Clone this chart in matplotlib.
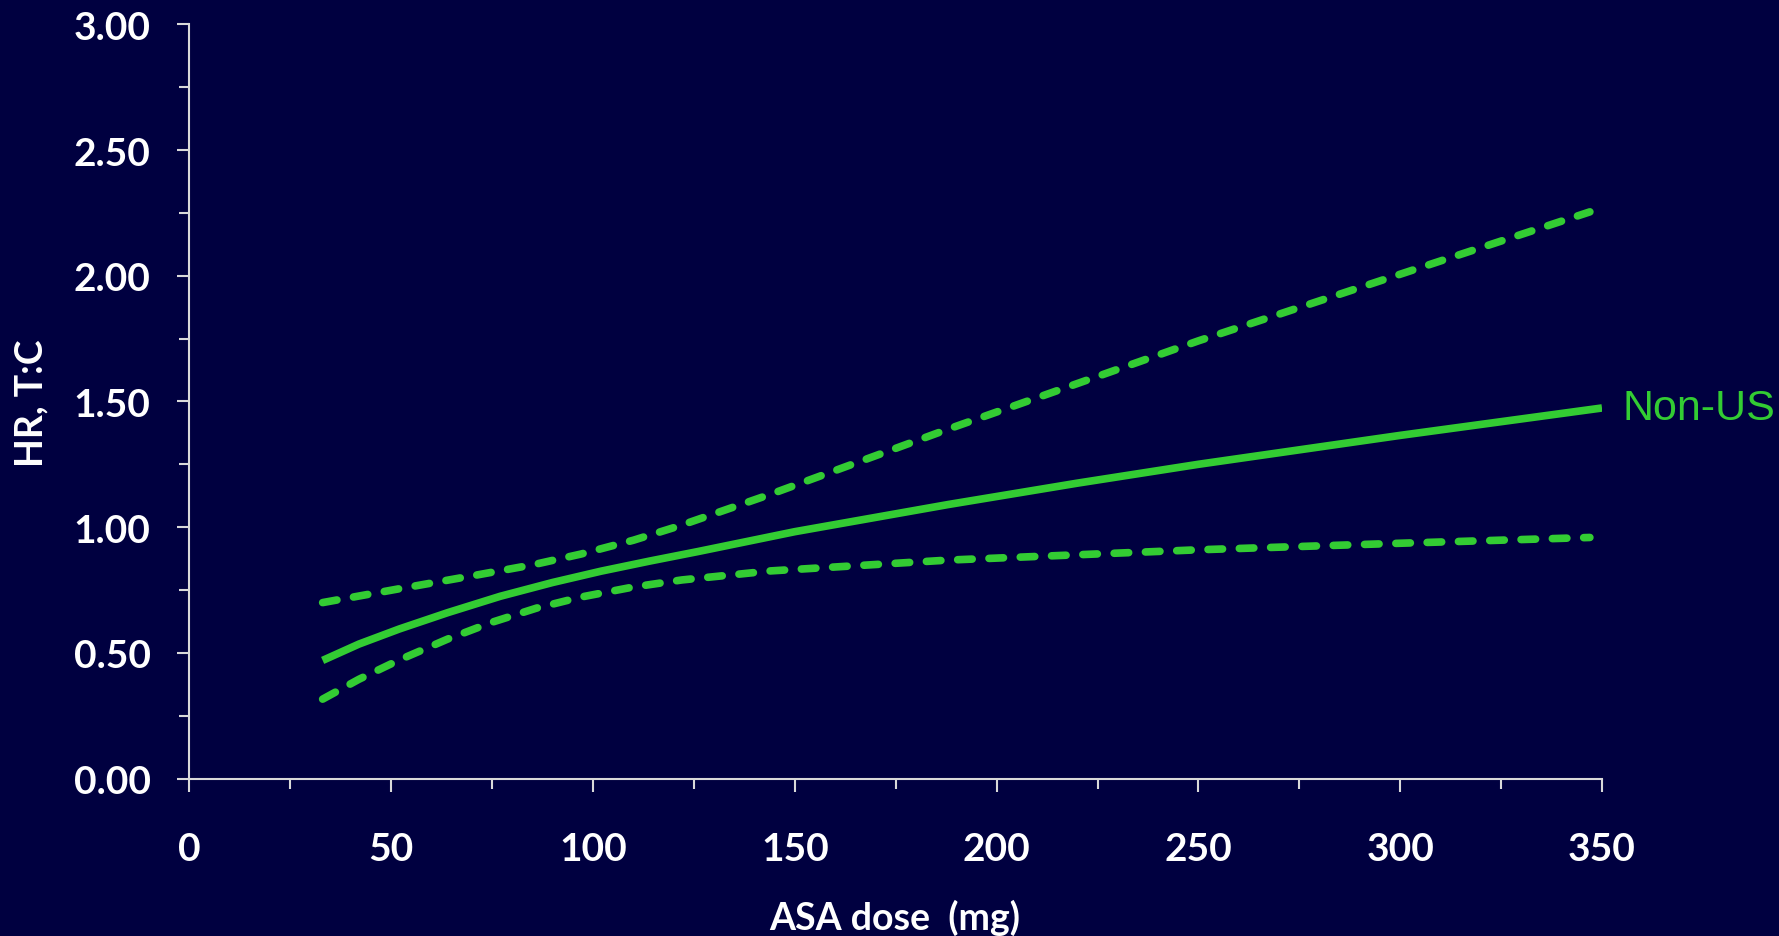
import numpy as np
import matplotlib
matplotlib.use("Agg")
import matplotlib.pyplot as plt
from matplotlib.ticker import MultipleLocator

# values
dose = [33, 42, 52, 64, 77, 90, 102, 114, 126, 150, 188, 220, 250, 300, 350]
hr = [0.47, 0.535, 0.595, 0.66, 0.725, 0.78, 0.825, 0.865, 0.903, 0.982,
      1.09, 1.175, 1.25, 1.365, 1.474]

upper_dose = [33, 52, 72, 85, 97, 110, 121, 144, 188, 250, 300, 347]
ci_upper = [0.70, 0.755, 0.812, 0.85, 0.893, 0.948, 1.003, 1.131, 1.39,
            1.741, 2.006, 2.254]

lower_dose = [33, 42, 52, 64, 75, 86, 97, 110, 122, 144, 188, 250, 300, 347]
ci_lower = [0.316, 0.395, 0.472, 0.555, 0.622, 0.678, 0.722, 0.762, 0.79,
            0.826, 0.869, 0.91, 0.936, 0.959]

series_label = "Non-US"
x_ticks = [0, 50, 100, 150, 200, 250, 300, 350]
y_ticks = [0.0, 0.5, 1.0, 1.5, 2.0, 2.5, 3.0]

bg = "#000040"
green = "#33CC33"
axis_col = "#D9D9D9"

fig = plt.figure(figsize=(17.79, 9.37), dpi=100, facecolor=bg)
ax = fig.add_axes([0.1065, 0.168, 0.794, 0.805], facecolor=bg)

ax.plot(dose, hr, color=green, lw=5.5, solid_capstyle="butt",
        solid_joinstyle="round")
for xs, ci in ((upper_dose, ci_upper), (lower_dose, ci_lower)):
    ax.plot(xs, ci, color=green, lw=5.5, linestyle=(0, (1.9, 2.2)),
            dash_capstyle="round", dash_joinstyle="round")

ax.text(355, hr[-1], series_label, color=green, fontsize=31,
        family="Liberation Sans", va="center", ha="left", clip_on=False)

ax.set_xlim(0, 350)
ax.set_ylim(0, 3)
ax.set_xticks(x_ticks)
ax.set_yticks(y_ticks)
ax.set_yticklabels([f"{v:.2f}" for v in y_ticks])
ax.xaxis.set_minor_locator(MultipleLocator(25))
ax.yaxis.set_minor_locator(MultipleLocator(0.25))

for s in ("top", "right"):
    ax.spines[s].set_visible(False)
for s in ("left", "bottom"):
    ax.spines[s].set_color(axis_col)
    ax.spines[s].set_linewidth(1.5)

ax.tick_params(which="both", colors=axis_col, width=1.5, direction="out")
ax.tick_params(which="major", length=9)
ax.tick_params(which="minor", length=7)
ax.tick_params(axis="x", which="major", pad=29)
ax.tick_params(axis="y", which="major", pad=19)

for lab in ax.get_xticklabels() + ax.get_yticklabels():
    lab.set_color("white")
    lab.set_fontsize(28)
    lab.set_fontweight("bold")
    lab.set_family("Lato")

fig.text(0.503, 0.02, "ASA dose  (mg)", color="white", fontsize=27,
         fontweight="bold", family="Lato", ha="center", va="center")
fig.text(0.0175, 0.57, "HR, T:C", color="white", fontsize=27,
         fontweight="bold", family="Lato", ha="center", va="center",
         rotation=90)

fig.savefig("out.png", dpi=100, facecolor=bg)
